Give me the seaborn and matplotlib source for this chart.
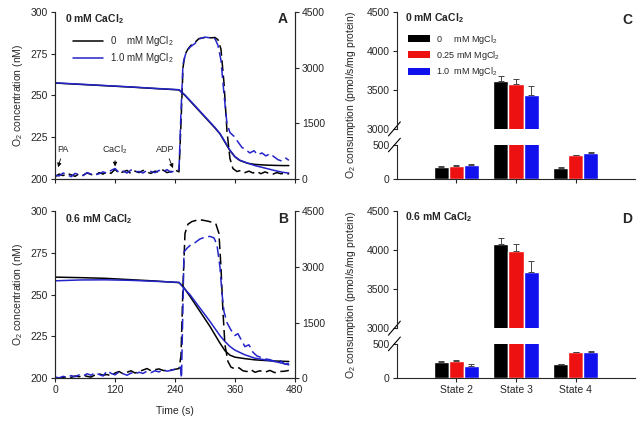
import matplotlib
matplotlib.use('Agg')
import matplotlib.pyplot as plt
from matplotlib.patches import Patch
import pandas as pd
import seaborn as sns

sns.set_style('ticks')
plt.rcParams['font.family'] = ['Liberation Sans', 'DejaVu Sans']
plt.rcParams['mathtext.default'] = 'regular'
plt.rcParams['font.size'] = 7.5
plt.rcParams['xtick.labelsize'] = 7.5
plt.rcParams['ytick.labelsize'] = 7.5

# ---------------- time course data (panels A, B) ----------------
# O2 concentration (nM), solid lines
t_conc_a = [0, 50, 100, 150, 200, 248, 260, 280, 300, 320, 330, 340, 350, 360, 370, 385, 400, 420, 440, 455, 468]
conc_a_mg0 = [257.4, 256.6, 255.8, 255.0, 254.1, 253.3, 250.0, 243.5, 237.0, 230.5, 227.0, 222.0, 217.0, 213.2,
              211.0, 209.4, 208.7, 208.3, 208.1, 208.0, 208.0]
conc_a_mg1 = [257.5, 256.7, 255.9, 255.1, 254.2, 253.4, 250.2, 243.8, 237.3, 230.8, 227.2, 222.3, 217.2, 213.4,
              211.2, 209.5, 208.0, 206.5, 205.0, 204.0, 203.5]

t_conc_b = [0, 50, 100, 150, 200, 248, 256, 270, 290, 310, 330, 340, 350, 360, 380, 400, 420, 440, 468]
conc_b_mg0 = [260.5, 260.2, 259.8, 259.0, 258.2, 257.2, 255.0, 249.0, 240.0, 231.0, 221.0, 216.5, 213.8, 212.6,
              211.7, 211.0, 210.6, 210.3, 210.0]
conc_b_mg1 = [258.3, 258.8, 258.9, 258.6, 258.0, 257.4, 254.5, 250.0, 242.0, 234.0, 225.5, 222.0, 219.0, 216.8,
              214.0, 212.0, 211.0, 210.0, 208.0]

# O2 consumption rate (pmol/s/mg protein), dashed lines
t_base = [0, 8, 16, 24, 32, 40, 48, 56, 64, 72, 80, 88, 96, 104, 112, 120,
          128, 136, 144, 152, 160, 168, 176, 184, 192, 200, 208, 216, 224, 232, 240, 248]

rate_a_mg0_base = [60, 130, 90, 150, 110, 70, 140, 100, 160, 120, 90, 170, 130, 200, 150, 260,
                   150, 190, 230, 140, 210, 170, 230, 180, 150, 210, 180, 240, 170, 200, 240, 190]
t_a_mg0 = [252, 256, 260, 266, 272, 280, 288, 296, 304, 312, 320, 326, 332, 338, 344, 350,
           356, 364, 372, 380, 388, 396, 404, 412, 420, 428, 436, 444, 452, 460, 468]
rate_a_mg0 = [1500, 3000, 3350, 3500, 3600, 3680, 3780, 3800, 3820, 3800, 3810, 3750, 3500, 2600, 1300, 550,
              280, 200, 230, 170, 210, 160, 200, 140, 190, 150, 130, 170, 140, 150, 130]

rate_a_mg1_base = [100, 80, 160, 120, 60, 150, 110, 90, 170, 130, 110, 140, 190, 150, 230, 280,
                   170, 210, 160, 240, 190, 200, 160, 230, 200, 170, 230, 190, 250, 180, 220, 260]
t_a_mg1 = [252, 256, 262, 270, 280, 290, 300, 310, 320, 326, 332, 338, 344, 350, 358,
           366, 374, 382, 390, 398, 406, 414, 422, 430, 438, 446, 454, 462, 468]
rate_a_mg1 = [1800, 3100, 3400, 3550, 3650, 3780, 3820, 3800, 3780, 3600, 3200, 2300, 1500, 1250, 1150,
              1000, 850, 780, 700, 760, 650, 700, 620, 680, 600, 520, 480, 560, 500]

rate_b_mg0_base = [10, 0, 20, 40, 20, 60, 40, 80, 50, 30, 90, 120, 80, 100, 60, 140,
                   180, 120, 160, 200, 140, 180, 220, 260, 200, 230, 250, 210, 200, 220, 240, 260]
t_b_mg0 = [252, 256, 260, 266, 274, 282, 290, 298, 306, 314, 322, 328, 332, 336, 340,
           346, 352, 360, 368, 376, 384, 392, 400, 410, 420, 430, 440, 450, 460, 468]
rate_b_mg0 = [600, 2500, 3900, 4150, 4220, 4250, 4270, 4250, 4230, 4200, 4150, 3900, 3000, 1800, 900,
              450, 300, 250, 280, 200, 180, 230, 160, 200, 160, 210, 150, 180, 190, 210]

rate_b_mg1_base = [30, 10, 50, 20, 70, 40, 90, 60, 120, 80, 150, 100, 60, 200, 130, 90,
                   170, 120, 80, 140, 110, 160, 130, 190, 150, 200, 170, 230, 190, 210, 240, 280]
t_b_mg1 = [251, 253, 256, 258, 264, 272, 280, 290, 300, 310, 318, 324, 330, 334, 338, 344,
           352, 360, 366, 372, 380, 388, 396, 404, 412, 420, 430, 440, 450, 460, 468]
rate_b_mg1 = [300, 0, 2000, 3400, 3500, 3600, 3650, 3750, 3800, 3820, 3780, 3600, 3000, 2300, 1800, 1500,
              1300, 1150, 1200, 1050, 850, 900, 700, 600, 560, 520, 500, 450, 480, 380, 400]

# ---------------- bar data (panels C, D) ----------------
states = ['State 2', 'State 3', 'State 4']
mg_labels = ['0     mM MgCl$_2$', '0.25 mM MgCl$_2$', '1.0  mM MgCl$_2$']
bar_colors = ['#000000', '#ee1111', '#1111ee']

c_mg0 = [175, 3620, 160]
c_mg025 = [195, 3570, 350]
c_mg1 = [205, 3430, 385]
c_err0 = [12, 60, 10]
c_err025 = [12, 65, 10]
c_err1 = [10, 120, 8]

d_mg0 = [230, 4085, 205]
d_mg025 = [245, 3995, 375]
d_mg1 = [175, 3715, 380]
d_err0 = [25, 73, 8]
d_err025 = [15, 90, 10]
d_err1 = [25, 140, 10]

line_blue = '#2424c8'
dash = (0, (7, 3))


def draw_time(ax, t_conc, conc0, conc1, t_r0, r0, t_r1, r1, title, letter, bottom):
    sns.lineplot(x=t_conc, y=conc0, ax=ax, color='black', lw=1.1, sort=False, estimator=None,
                 label='0    mM MgCl$_2$')
    sns.lineplot(x=t_conc, y=conc1, ax=ax, color=line_blue, lw=1.1, sort=False, estimator=None,
                 label='1.0 mM MgCl$_2$')
    ax.set_xlim(0, 480)
    ax.set_ylim(200, 300)
    ax.set_yticks([200, 225, 250, 275, 300])
    ax.set_xticks([0, 120, 240, 360, 480])
    ax.set_ylabel('O$_2$ concentration (nM)', labelpad=4)
    if bottom:
        ax.set_xlabel('Time (s)', labelpad=8)
        ax.get_legend().remove()
    else:
        ax.set_xticklabels([])
        ax.legend(loc='upper left', bbox_to_anchor=(0.04, 0.92), frameon=False, fontsize=7,
                  handlelength=3.0, labelspacing=0.3)
    ax.spines['top'].set_visible(False)

    ax2 = ax.twinx()
    sns.lineplot(x=t_r0, y=r0, ax=ax2, color='black', lw=1.1, linestyle=dash, sort=False, estimator=None)
    sns.lineplot(x=t_r1, y=r1, ax=ax2, color=line_blue, lw=1.1, linestyle=dash, sort=False, estimator=None)
    ax2.set_ylim(0, 4500)
    ax2.set_yticks([0, 1500, 3000, 4500])
    ax2.set_ylabel('')
    ax2.spines['top'].set_visible(False)
    for a in (ax, ax2):
        a.tick_params(direction='out', length=3, width=0.8, pad=2)
        for s in a.spines.values():
            s.set_linewidth(0.8)

    ax.text(0.04, 0.955, title, transform=ax.transAxes, fontweight='bold', fontsize=7.5, va='center')
    ax.text(0.95, 0.955, letter, transform=ax.transAxes, fontweight='bold', fontsize=10,
            va='center', ha='center')
    return ax2


def draw_bars(ax_top, ax_bot, v0, v1, v2, e0, e1, e2, title, letter, bottom, legend):
    df = pd.DataFrame({
        'state': states * 3,
        'mg': [mg_labels[0]] * 3 + [mg_labels[1]] * 3 + [mg_labels[2]] * 3,
        'value': v0 + v1 + v2,
    })
    errs = [e0, e1, e2]
    vals = [v0, v1, v2]
    for ax in (ax_top, ax_bot):
        sns.barplot(data=df, x='state', y='value', hue='mg', hue_order=mg_labels, order=states,
                    palette=bar_colors, ax=ax, errorbar=None, width=0.76, saturation=1, legend=False)
        for j in range(3):
            for i in range(3):
                p = ax.patches[j * 3 + i]
                xc = p.get_x() + p.get_width() / 2
                ax.errorbar(xc, vals[j][i], yerr=[[0], [errs[j][i]]], color='#444444', lw=0.7,
                            capsize=2.2, capthick=0.7)
        ax.set_xlim(-1, 3)
        ax.set_xlabel('')
        ax.set_ylabel('')
        ax.tick_params(direction='out', length=3, width=0.8, pad=2)
        for s in ax.spines.values():
            s.set_linewidth(0.8)
        ax.spines['top'].set_visible(False)
        ax.spines['right'].set_visible(False)

    ax_top.set_ylim(3000, 4500)
    ax_top.set_yticks([3000, 3500, 4000, 4500])
    ax_top.spines['bottom'].set_visible(False)
    ax_top.tick_params(axis='x', bottom=False, labelbottom=False)
    ax_bot.set_ylim(0, 500)
    ax_bot.set_yticks([0, 500])
    if not bottom:
        ax_bot.set_xticklabels([])

    # axis break marks
    kw = dict(color='black', lw=0.8, clip_on=False)
    ax_top.plot([-0.035, 0.015], [-0.06, 0.06], transform=ax_top.transAxes, **kw)
    ax_bot.plot([-0.035, 0.015], [0.80, 1.20], transform=ax_bot.transAxes, **kw)

    ax_top.text(0.035, 0.945, title, transform=ax_top.transAxes, fontweight='bold', fontsize=7.5, va='center')
    ax_top.text(0.965, 0.93, letter, transform=ax_top.transAxes, fontweight='bold', fontsize=10,
                va='center', ha='center')
    if legend:
        handles = [Patch(facecolor=c, edgecolor='none') for c in bar_colors]
        ax_top.legend(handles, mg_labels, loc='upper left', bbox_to_anchor=(0.015, 0.89), frameon=False,
                      fontsize=6.5, handlelength=2.4, handleheight=0.8, labelspacing=0.35, handletextpad=0.6)


fig = plt.figure(figsize=(6.41, 4.24), dpi=100)
axA = fig.add_axes([0.086, 0.578, 0.374, 0.394])
axB = fig.add_axes([0.086, 0.108, 0.374, 0.394])
axC_top = fig.add_axes([0.619, 0.696, 0.372, 0.276])
axC_bot = fig.add_axes([0.619, 0.578, 0.372, 0.080])
axD_top = fig.add_axes([0.619, 0.226, 0.372, 0.276])
axD_bot = fig.add_axes([0.619, 0.108, 0.372, 0.081])

draw_time(axA, t_conc_a, conc_a_mg0, conc_a_mg1,
          t_base + t_a_mg0, rate_a_mg0_base + rate_a_mg0,
          t_base + t_a_mg1, rate_a_mg1_base + rate_a_mg1,
          '0 mM CaCl$_2$', 'A', bottom=False)
draw_time(axB, t_conc_b, conc_b_mg0, conc_b_mg1,
          t_base + t_b_mg0, rate_b_mg0_base + rate_b_mg0,
          t_base + t_b_mg1, rate_b_mg1_base + rate_b_mg1,
          '0.6 mM CaCl$_2$', 'B', bottom=True)

# addition markers in panel A
arrow = dict(arrowstyle='-|>', color='black', lw=0.6, mutation_scale=6, shrinkA=1, shrinkB=0)
axA.annotate('PA', xy=(6, 207), xytext=(16, 217.5), ha='center', va='center', fontsize=6.5, arrowprops=arrow)
axA.annotate('CaCl$_2$', xy=(120, 207.5), xytext=(120, 217.5), ha='center', va='center', fontsize=6.5,
             arrowprops=arrow)
axA.annotate('ADP', xy=(236, 206.5), xytext=(221, 217.5), ha='center', va='center', fontsize=6.5,
             arrowprops=arrow)

draw_bars(axC_top, axC_bot, c_mg0, c_mg025, c_mg1, c_err0, c_err025, c_err1,
          '0 mM CaCl$_2$', 'C', bottom=False, legend=True)
draw_bars(axD_top, axD_bot, d_mg0, d_mg025, d_mg1, d_err0, d_err025, d_err1,
          '0.6 mM CaCl$_2$', 'D', bottom=True, legend=False)

fig.text(0.548, 0.775, 'O$_2$ consumption (pmol/s/mg protein)', rotation=90, ha='center', va='center')
fig.text(0.548, 0.305, 'O$_2$ consumption (pmol/s/mg protein)', rotation=90, ha='center', va='center')

fig.savefig('out.png', dpi=100)
